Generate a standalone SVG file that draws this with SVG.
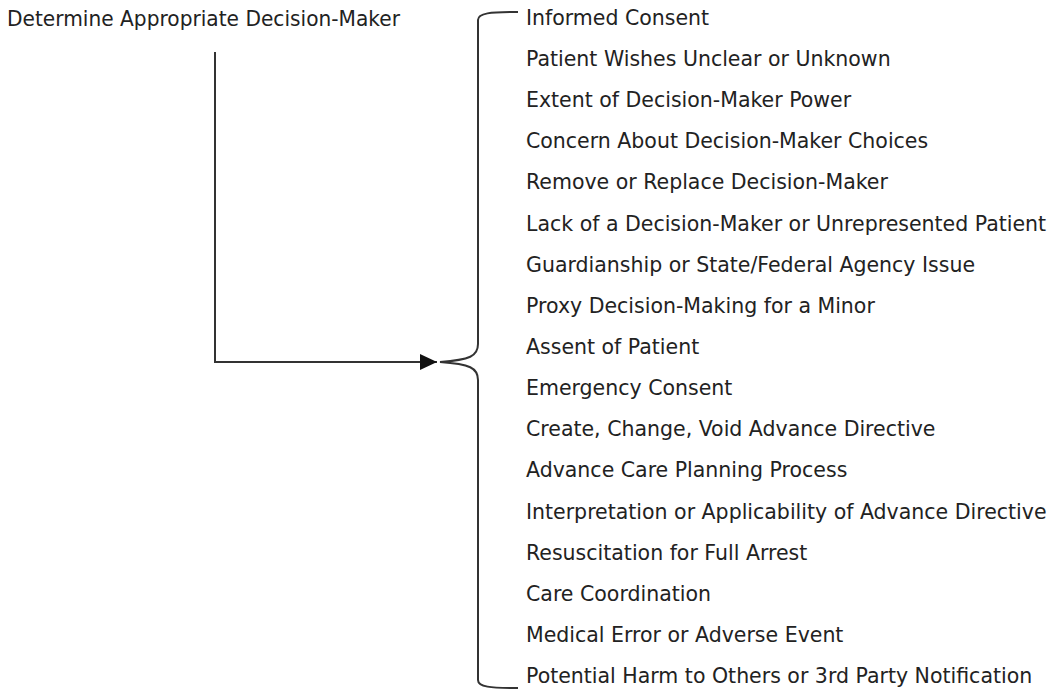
<svg xmlns="http://www.w3.org/2000/svg" width="1063" height="692" viewBox="0 0 1063 692">
<style>
text{font-family:"DejaVu Sans",sans-serif;font-size:20.5px;fill:#222}
.ln{fill:none;stroke:#333;stroke-width:2}
</style>
<defs>
<marker id="ah" markerWidth="18" markerHeight="16" refX="17" refY="8" orient="auto" markerUnits="userSpaceOnUse" viewBox="0 0 18 16">
<path d="M0,0 L17,8 L0,16 Z" fill="#111"/>
</marker>
</defs>
<rect width="1063" height="692" fill="#fff"/>
<g id="source">
<text x="7" y="26" textLength="393" lengthAdjust="spacingAndGlyphs">Determine Appropriate Decision-Maker</text>
</g>
<g id="connectors">
<path class="ln" d="M215,52 V362 H437" marker-end="url(#ah)"/>
<path class="ln" d="M518,12 C490,12 478,13 478,20 V344 C478,356 470,360 440,362 C470,364 478,368 478,380 V680 C478,687 490,688 518,688"/>
</g>
<g id="targets">
<text x="526" y="25">Informed Consent</text>
<text x="526" y="66">Patient Wishes Unclear or Unknown</text>
<text x="526" y="107">Extent of Decision-Maker Power</text>
<text x="526" y="148">Concern About Decision-Maker Choices</text>
<text x="526" y="189">Remove or Replace Decision-Maker</text>
<text x="526" y="231">Lack of a Decision-Maker or Unrepresented Patient</text>
<text x="526" y="272">Guardianship or State/Federal Agency Issue</text>
<text x="526" y="313">Proxy Decision-Making for a Minor</text>
<text x="526" y="354">Assent of Patient</text>
<text x="526" y="395">Emergency Consent</text>
<text x="526" y="436">Create, Change, Void Advance Directive</text>
<text x="526" y="477">Advance Care Planning Process</text>
<text x="526" y="519">Interpretation or Applicability of Advance Directive</text>
<text x="526" y="560">Resuscitation for Full Arrest</text>
<text x="526" y="601">Care Coordination</text>
<text x="526" y="642">Medical Error or Adverse Event</text>
<text x="526" y="683">Potential Harm to Others or 3rd Party Notification</text>
</g>
</svg>
